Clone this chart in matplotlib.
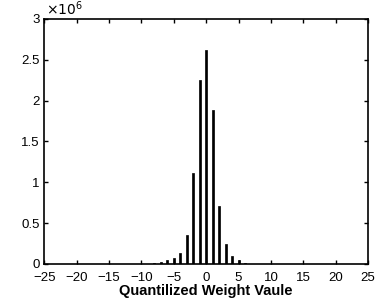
import numpy as np
import matplotlib
matplotlib.use("Agg")
import matplotlib.pyplot as plt

# quantized weight values and their counts (in units of 1e6)
weights = [-8, -7, -6, -5, -4, -3, -2, -1, 0, 1, 2, 3, 4, 5, 6, 7]
counts = [0.012, 0.022, 0.05, 0.077, 0.135, 0.35, 1.11, 2.25, 2.62, 1.88,
          0.71, 0.245, 0.098, 0.045, 0.015, 0.004]

xticks = list(range(-25, 26, 5))
yticks = [0, 0.5, 1, 1.5, 2, 2.5, 3]
ytick_labels = ["0", "0.5", "1", "1.5", "2", "2.5", "3"]

plt.rcParams['font.family'] = ['Liberation Sans', 'DejaVu Sans']

fig = plt.figure(figsize=(3.85, 3.0), dpi=100)
ax = fig.add_axes([0.115, 0.12, 0.841, 0.817])

ax.bar(weights, np.array(counts), width=0.3, color='black',
       edgecolor='black', linewidth=0.5)

ax.set_xlim(-25, 25)
ax.set_ylim(0, 3)
ax.set_xticks(xticks)
ax.set_xticklabels([str(t).replace('-', '\u2212') for t in xticks])
ax.set_yticks(yticks)
ax.set_yticklabels(ytick_labels)
ax.tick_params(direction='in', top=True, right=True, length=3, width=1,
               labelsize=9.5)
ax.tick_params(axis='x', pad=5.5)
ax.tick_params(axis='y', pad=3.5)
for s in ax.spines.values():
    s.set_linewidth(1.2)

ax.text(0.005, 1.005, r'$\times10^{6}$', transform=ax.transAxes,
        fontsize=10, ha='left', va='bottom')
ax.set_xlabel('Quantilized Weight Vaule', fontsize=10.5, fontweight='bold',
              labelpad=0)

fig.savefig('out.png', dpi=100)
